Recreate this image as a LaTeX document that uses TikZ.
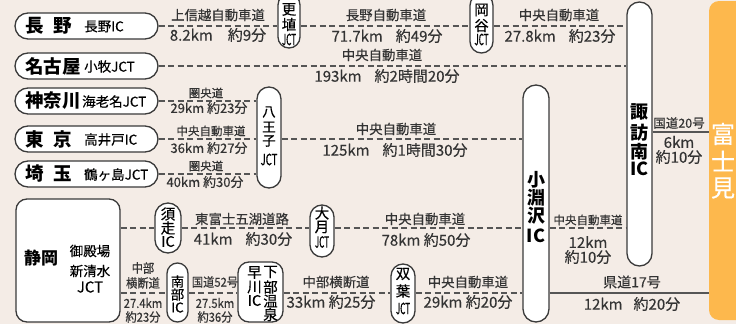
\documentclass[tikz,border=0pt]{standalone}
\usepackage{fontspec}
\usepackage{graphicx}
\setmainfont{Noto Sans CJK JP}
\newfontfamily\medf{Noto Sans CJK JP}[FakeBold=0.35]
\definecolor{bgc}{HTML}{F4ECE6}
\definecolor{boxc}{HTML}{3A3A3A}
\definecolor{linec}{HTML}{555555}
\definecolor{txtc}{HTML}{333333}
\definecolor{orng}{HTML}{FDB84D}
\newcommand\cnd[1]{\scalebox{0.9}[1]{#1}}
\newcommand\jct{\scalebox{0.52}[1]{JCT}}
\tikzset{
  bx/.style={draw=boxc, line width=1.3pt, fill=white, inner sep=0pt, rectangle},
  dsh/.style={draw=linec, line width=1.2pt, dash pattern=on 6pt off 3.5pt},
  sol/.style={draw=linec, line width=1.2pt},
  tx/.style={text=txtc, inner sep=0pt, anchor=center},
  rd/.style={tx, font=\medf\fontsize{13.4}{14}\selectfont},
  ds/.style={tx, font=\medf\fontsize{15}{16}\selectfont},
  srd/.style={tx, font=\medf\fontsize{11.5}{12}\selectfont},
  sds/.style={tx, font=\medf\fontsize{13}{14}\selectfont},
  tny/.style={tx, font=\medf\fontsize{12.5}{13}\selectfont},
  big/.style={tx, text=black, anchor=west, font=\fontsize{18.5}{19}\bfseries\selectfont},
  sml/.style={tx, text=black, anchor=west, font=\medf\fontsize{13.5}{14}\selectfont},
  vc/.style={tx, text=black, font=\medf\fontsize{14.5}{15}\selectfont},
  vcs/.style={tx, text=black, font=\medf\fontsize{13.5}{14}\selectfont},
  vcb/.style={tx, text=black, font=\fontsize{18}{19}\bfseries\selectfont},
  jc/.style={tx, text=black, font=\medf\fontsize{15.5}{16}\selectfont},
  fj/.style={tx, text=white, font=\medf\fontsize{24}{25}\selectfont},
}
\begin{document}
\begin{tikzpicture}[x=1pt,y=-1pt]
\useasboundingbox (0,0) rectangle (736,324);
\fill[bgc] (0,0) rectangle (736,324);

% ---------- boxes ----------
\node[bx, rounded corners=13pt, minimum width=143pt, minimum height=26pt] (nagano) at (86.5,26) {};
\node[bx, rounded corners=13pt, minimum width=143pt, minimum height=26pt] (nagoya) at (86.5,66) {};
\node[bx, rounded corners=13pt, minimum width=143pt, minimum height=26pt] (kanagawa) at (86.5,101) {};
\node[bx, rounded corners=13pt, minimum width=143pt, minimum height=26pt] (tokyo) at (86.5,139) {};
\node[bx, rounded corners=13pt, minimum width=143pt, minimum height=26pt] (saitama) at (86.5,174) {};
\node[bx, rounded corners=11pt, minimum width=104pt, minimum height=123pt] (shizuoka) at (68,260.5) {};

\node[bx, rounded corners=11pt, minimum width=22pt, minimum height=54pt] (koshoku) at (289,21) {};
\node[bx, rounded corners=11.5pt, minimum width=23pt, minimum height=59pt] (okaya) at (481.5,23.5) {};
\node[bx, rounded corners=12pt, minimum width=24pt, minimum height=101pt] (hachioji) at (269,137.5) {};
\node[bx, rounded corners=12.5pt, minimum width=25pt, minimum height=264pt] (suwa) at (639.5,134) {};
\node[bx, rounded corners=13pt, minimum width=26pt, minimum height=237pt] (kobuchi) at (536,203.5) {};
\node[bx, rounded corners=13pt, minimum width=26pt, minimum height=50pt] (subashiri) at (168,228) {};
\node[bx, rounded corners=12pt, minimum width=24pt, minimum height=52pt] (otsuki) at (322,231) {};
\node[bx, rounded corners=10.5pt, minimum width=21pt, minimum height=59pt] (nanbu) at (177.5,292.5) {};
\node[bx, rounded corners=11pt, minimum width=45pt, minimum height=60pt] (hayakawa) at (260.5,292) {};
\node[bx, rounded corners=12pt, minimum width=24pt, minimum height=59pt] (futaba) at (403,293.5) {};
\node[fill=orng, rounded corners=10pt, inner sep=0pt, minimum width=41pt, minimum height=319pt] (fujimi) at (729.5,160.5) {};

\coordinate (rowlow) at (0,293);
\coordinate (row20) at (0,132);

% ---------- roads ----------
\draw[dsh] (nagano.east) -- (nagano.east -| koshoku.west);
\draw[dsh] (nagano.east -| koshoku.east) -- (nagano.east -| okaya.west);
\draw[dsh] (nagano.east -| okaya.east) -- (nagano.east -| suwa.west);
\draw[dsh] (nagoya.east) -- (nagoya.east -| suwa.west);
\draw[dsh] (kanagawa.east) -- (kanagawa.east -| hachioji.west);
\draw[dsh] (tokyo.east) -- (tokyo.east -| hachioji.west);
\draw[dsh] (tokyo.east -| hachioji.east) -- (tokyo.east -| kobuchi.west);
\draw[dsh] (saitama.east) -- (saitama.east -| hachioji.west);
\draw[dsh] (shizuoka.east |- subashiri) -- (subashiri.west);
\draw[dsh] (subashiri.east) -- (subashiri.east -| otsuki.west);
\draw[dsh] (subashiri.east -| otsuki.east) -- (subashiri.east -| kobuchi.west);
\draw[dsh] (subashiri.east -| kobuchi.east) -- (subashiri.east -| suwa.west);
\draw[dsh] (shizuoka.east |- rowlow) -- (nanbu.west |- rowlow);
\draw[dsh] (nanbu.east |- rowlow) -- (hayakawa.west |- rowlow);
\draw[dsh] (hayakawa.east |- rowlow) -- (futaba.west |- rowlow);
\draw[dsh] (futaba.east |- rowlow) -- (kobuchi.west |- rowlow);
\draw[sol] (kobuchi.east |- rowlow) -- (fujimi.west |- rowlow);
\draw[sol] (suwa.east |- row20) -- (fujimi.west |- row20);

% ---------- origin texts ----------
\node[big] (t-nagano) at (25,26) {長\hspace{10pt}野};
\node[sml] (t-naganoic) at (84,26.5) {長野IC};
\node[big] (t-nagoya) at (25,66) {名古屋};
\node[sml] (t-komaki) at (84,66.5) {小牧JCT};
\node[big] (t-kanagawa) at (25,101) {神奈川};
\node[sml] (t-ebina) at (82,101.5) {海老名JCT};
\node[big] (t-tokyo) at (25,139) {東\hspace{10pt}京};
\node[sml] (t-takaido) at (84,139.5) {高井戸IC};
\node[big] (t-saitama) at (25,174) {埼\hspace{10pt}玉};
\node[sml] (t-tsuru) at (84,174.5) {鶴ヶ島JCT};
\node[big, anchor=center, font=\fontsize{17}{18}\bfseries\selectfont] (t-shizuoka) at (41,258) {静岡};
\node[tx, text=black, font=\medf\fontsize{13.5}{14}\selectfont] (t-gotemba) at (90,251) {御殿場};
\node[tx, text=black, font=\medf\fontsize{13.5}{14}\selectfont] (t-shinshimizu) at (90,271) {新清水};
\node[tx, text=black, font=\medf\fontsize{15}{16}\selectfont] (t-sjct) at (90,287) {JCT};

% ---------- box texts ----------
\node[vc] (k1) at (289,9.5) {更};
\node[vc] (k2) at (289,24.5) {埴};
\node[jc] (k3) at (289,39.5) {\jct};
\node[vc] (o1) at (481.5,10) {岡};
\node[vc] (o2) at (481.5,25.5) {谷};
\node[jc] (o3) at (481.5,39.5) {\jct};
\node[vcs] (h1) at (269,112) {八};
\node[vcs] (h2) at (269,127) {王};
\node[vcs] (h3) at (269,141) {子};
\node[jc] (h4) at (269,159.5) {\scalebox{0.62}[1]{JCT}};
\node[vc] (s1) at (168,214) {須};
\node[vc] (s2) at (168,228) {走};
\node[vc] (s3) at (168,241.5) {IC};
\node[vc] (ot1) at (322,213) {大};
\node[vc] (ot2) at (322,227) {月};
\node[jc] (ot3) at (322,242) {\jct};
\node[vcs] (n1) at (177.5,281.5) {南};
\node[vcs] (n2) at (177.5,294.5) {部};
\node[vcs] (n3) at (177.5,307.5) {IC};
\node[vc] (hy1) at (254.5,272.5) {早};
\node[vc] (hy2) at (254.5,287) {川};
\node[vc] (hy3) at (254.5,300.5) {IC};
\node[vc] (sb1) at (270.5,272) {下};
\node[vc] (sb2) at (270.5,287) {部};
\node[vc] (sb3) at (270.5,301) {温};
\node[vc] (sb4) at (270.5,314.5) {泉};
\node[vc] (f1) at (403,274) {双};
\node[vc] (f2) at (403,291) {葉};
\node[jc] (f3) at (403,308.5) {\jct};
\node[vcb] (sw1) at (639.5,112) {諏};
\node[vcb] (sw2) at (639.5,133) {訪};
\node[vcb] (sw3) at (639.5,152) {南};
\node[vcb] (sw4) at (639.5,168.5) {IC};
\node[vcb] (kb1) at (536,180) {小};
\node[vcb] (kb2) at (536,198) {淵};
\node[vcb] (kb3) at (536,216) {沢};
\node[vcb] (kb4) at (536,235.5) {IC};
\node[fj] (fj1) at (723,134) {富};
\node[fj] (fj2) at (723,161) {士};
\node[fj] (fj3) at (723,188) {見};

% ---------- road labels ----------
\node[rd] (l1a) at (218,15) {上信越自動車道};
\node[ds] (l1b) at (218,35) {8.2km\hspace{15pt}約9分};
\node[rd] (l2a) at (386,15) {長野自動車道};
\node[ds] (l2b) at (387,36) {71.7km\hspace{13pt}約49分};
\node[rd] (l3a) at (559,15) {中央自動車道};
\node[ds] (l3b) at (560,36) {27.8km\hspace{13pt}約23分};
\node[rd] (l4a) at (382,55) {中央自動車道};
\node[ds] (l4b) at (387,76) {193km\hspace{13pt}約2時間20分};
\node[srd] (l5a) at (206,93) {圏央道};
\node[sds] (l5b) at (209,108) {29km 約23分};
\node[srd] (l6a) at (211,131) {中央自動車道};
\node[sds] (l6b) at (209,148) {36km 約27分};
\node[rd] (l7a) at (396,129) {中央自動車道};
\node[ds] (l7b) at (395,150) {125km\hspace{13pt}約1時間30分};
\node[srd] (l8a) at (206,166) {圏央道};
\node[sds] (l8b) at (205,182) {40km 約30分};
\node[rd] (l9a) at (242,219) {東富士五湖道路};
\node[ds] (l9b) at (243,239) {41km\hspace{13pt}約30分};
\node[rd] (l10a) at (425,219) {中央自動車道};
\node[ds] (l10b) at (426,240) {78km 約50分};
\node[srd] (l11a) at (588,220) {中央自動車道};
\node[ds] (l11b) at (588,242) {12km};
\node[ds] (l11c) at (588,257) {約10分};
\node[tny] (l12a) at (679,123) {国道20号};
\node[ds] (l12b) at (679,142) {6km};
\node[ds] (l12c) at (679,157) {約10分};
\node[rd, font=\medf\fontsize{14}{15}\selectfont] (l13a) at (632,282) {県道17号};
\node[ds] (l13b) at (632,304) {12km\hspace{11pt}約20分};
\node[tny] (l14a) at (143,268) {\cnd{中部}};
\node[tny] (l14b) at (143,283) {\cnd{横断道}};
\node[tny] (l14c) at (143,303) {\cnd{27.4km}};
\node[tny] (l14d) at (143,317) {\cnd{約23分}};
\node[tny] (l15a) at (215,282) {\cnd{国道52号}};
\node[tny] (l15b) at (215,303) {\cnd{27.5km}};
\node[tny] (l15c) at (215,317) {\cnd{約36分}};
\node[rd] (l16a) at (336,282) {中部横断道};
\node[ds] (l16b) at (331,302) {33km 約25分};
\node[rd] (l17a) at (468,282) {中央自動車道};
\node[ds] (l17b) at (468,302) {29km 約20分};
\end{tikzpicture}
\end{document}
